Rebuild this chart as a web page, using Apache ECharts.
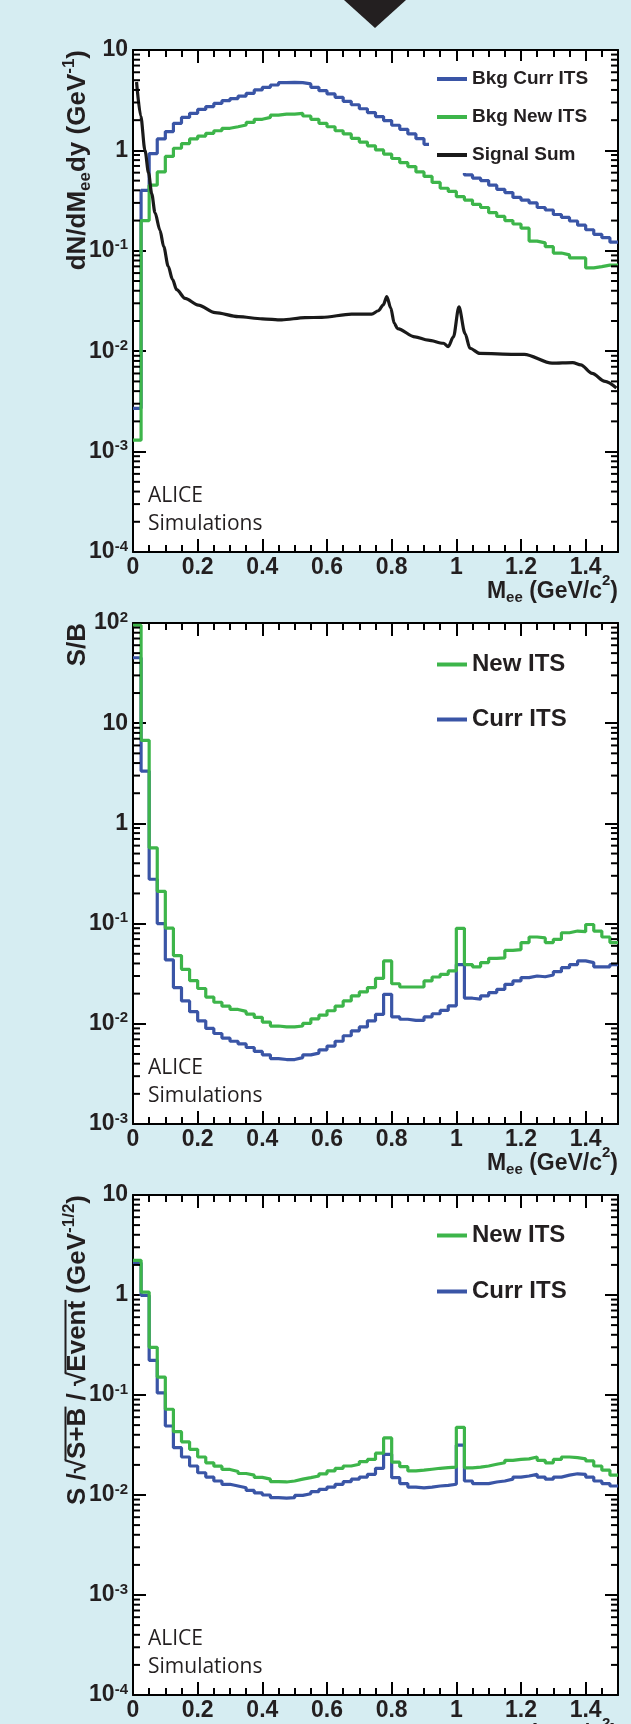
<!DOCTYPE html>
<html>
<head>
<meta charset="utf-8">
<script src="https://cdn.jsdelivr.net/npm/echarts@6/dist/echarts.min.js"></script>
<style>
html,body{margin:0;padding:0;background:#d6edf2;}
#c{width:631px;height:1724px;}
</style>
</head>
<body>
<div id="c"></div>
<script>
// ---------------- data ----------------
const binWidth = 0.025;            // histogram bin width (GeV/c^2), 60 bins from 0 to 1.5
const xTickLabels = ['0', '0.2', '0.4', '0.6', '0.8', '1', '1.2', '1.4'];

// Panel 1: dN/dMee dy
const bkgCurrITS = [0.0027, 0.40, 0.93, 1.30, 1.54, 1.86, 2.13, 2.34, 2.56, 2.73,
  2.94, 3.13, 3.28, 3.48, 3.70, 4.00, 4.25, 4.48, 4.73, 4.76,
  4.73, 4.59, 4.25, 3.93, 3.65, 3.38, 3.08, 2.85, 2.60, 2.38,
  2.17, 1.98, 1.78, 1.62, 1.46, 1.31, 1.15, 0.97, 0.83, 0.74,
  0.64, 0.57, 0.53, 0.50, 0.45, 0.41, 0.38, 0.34, 0.32, 0.30,
  0.27, 0.255, 0.23, 0.215, 0.198, 0.18, 0.162, 0.146, 0.135, 0.122];
const bkgNewITS = [0.0013, 0.20, 0.45, 0.61, 0.87, 1.05, 1.17, 1.30, 1.39, 1.48,
  1.57, 1.66, 1.72, 1.79, 1.90, 2.04, 2.13, 2.25, 2.30, 2.30,
  2.34, 2.20, 2.04, 1.86, 1.72, 1.57, 1.46, 1.32, 1.21, 1.11,
  1.01, 0.92, 0.83, 0.755, 0.69, 0.61, 0.55, 0.48, 0.42, 0.39,
  0.346, 0.32, 0.29, 0.27, 0.24, 0.22, 0.20, 0.185, 0.168, 0.125,
  0.12, 0.11, 0.095, 0.091, 0.085, 0.085, 0.0675, 0.0695, 0.072, 0.072];
const signalSumMass = [0.011, 0.024, 0.037, 0.048, 0.058, 0.068, 0.0835, 0.095, 0.109, 0.122,
  0.135, 0.161, 0.202, 0.254, 0.326, 0.40, 0.46, 0.532, 0.584, 0.676,
  0.738, 0.759, 0.774, 0.785, 0.797, 0.808, 0.818, 0.872, 0.913, 0.96,
  0.975, 0.991, 1.008, 1.027, 1.042, 1.073, 1.18, 1.21, 1.296, 1.36,
  1.385, 1.42, 1.46, 1.495];
const signalSumValue = [4.8, 2.2, 1.0, 0.6, 0.37, 0.24, 0.16, 0.11, 0.07, 0.052,
  0.041, 0.0336, 0.0288, 0.0242, 0.0221, 0.021, 0.0205, 0.0216, 0.0217, 0.0234,
  0.0234, 0.0253, 0.029, 0.035, 0.027, 0.019, 0.0168, 0.0139, 0.0129, 0.012,
  0.0111, 0.0139, 0.0277, 0.015, 0.0107, 0.0095, 0.0093, 0.0093, 0.0076, 0.0077,
  0.0073, 0.006, 0.005, 0.0043];

// Panel 2: S/B
const sbNewITS = [95, 6.75, 0.57, 0.21, 0.09, 0.048, 0.035, 0.027, 0.0225, 0.0185,
  0.0164, 0.015, 0.0139, 0.0133, 0.0125, 0.0116, 0.0104, 0.0095, 0.0093, 0.0093,
  0.0095, 0.0101, 0.0112, 0.0122, 0.0135, 0.015, 0.0169, 0.019, 0.0208, 0.023,
  0.0284, 0.0424, 0.0251, 0.0233, 0.0233, 0.0233, 0.0268, 0.0293, 0.0312, 0.0337,
  0.0897, 0.039, 0.037, 0.0408, 0.045, 0.0455, 0.054, 0.055, 0.0646, 0.0735,
  0.072, 0.0646, 0.0697, 0.081, 0.0843, 0.083, 0.098, 0.0843, 0.0735, 0.0646];
const sbCurrITS = [45, 3.33, 0.277, 0.10, 0.0435, 0.023, 0.0169, 0.0132, 0.0107, 0.009,
  0.008, 0.0072, 0.0067, 0.0063, 0.0058, 0.0053, 0.0049, 0.0045, 0.0044, 0.0044,
  0.0046, 0.0049, 0.0051, 0.0055, 0.006, 0.0067, 0.0076, 0.0085, 0.0093, 0.0107,
  0.0124, 0.0197, 0.0117, 0.0111, 0.0108, 0.0108, 0.0117, 0.0126, 0.0136, 0.0151,
  0.039, 0.018, 0.0176, 0.019, 0.0205, 0.0221, 0.0248, 0.0268, 0.0289, 0.030,
  0.0295, 0.0307, 0.0331, 0.0363, 0.039, 0.0424, 0.0408, 0.037, 0.037, 0.039];

// Panel 3: S/sqrt(S+B)/sqrt(Event)
const signifNewITS = [2.22, 1.07, 0.30, 0.151, 0.072, 0.043, 0.034, 0.0286, 0.024, 0.021,
  0.0194, 0.018, 0.0172, 0.0164, 0.0158, 0.015, 0.0144, 0.0136, 0.0135, 0.0138,
  0.0144, 0.0149, 0.0155, 0.0163, 0.0174, 0.0185, 0.0195, 0.0203, 0.0216, 0.0227,
  0.0262, 0.0372, 0.0213, 0.0192, 0.0174, 0.0177, 0.0181, 0.0185, 0.0188, 0.019,
  0.0475, 0.0187, 0.019, 0.0195, 0.0203, 0.021, 0.0222, 0.0227, 0.023, 0.024,
  0.0222, 0.021, 0.0227, 0.024, 0.0236, 0.023, 0.0219, 0.0195, 0.0177, 0.0158];
const signifCurrITS = [2.1, 0.99, 0.222, 0.105, 0.049, 0.0297, 0.024, 0.0195, 0.0167, 0.0151,
  0.0138, 0.0128, 0.0123, 0.0118, 0.0111, 0.0105, 0.0100, 0.0094, 0.0093, 0.0094,
  0.0099, 0.0103, 0.0108, 0.0114, 0.012, 0.0128, 0.0136, 0.0144, 0.0151, 0.0161,
  0.0185, 0.0255, 0.0149, 0.013, 0.012, 0.0118, 0.012, 0.0123, 0.0125, 0.0128,
  0.0316, 0.0138, 0.013, 0.013, 0.0135, 0.0138, 0.0144, 0.0151, 0.0155, 0.0161,
  0.0151, 0.0144, 0.0151, 0.0158, 0.0163, 0.0161, 0.0151, 0.0138, 0.013, 0.0123];

// y ranges (decade exponents) per panel
const yExpRanges = [[-4, 1], [-3, 2], [-4, 1]];

// ---------------- styling ----------------
const FONT = '"Liberation Sans", Arial, Helvetica, sans-serif';
const TXT = '#231f20';
const BLUE = '#3a55a6';
const GREEN = '#3db54a';
const BG = '#d6edf2';
const grids = [
  { left: 133, top: 50, width: 485, height: 502 },
  { left: 133, top: 623, width: 485, height: 501 },
  { left: 133, top: 1195, width: 485, height: 500 }
];

const mctx = document.createElement('canvas').getContext('2d');
function textW(t, size, weight) {
  mctx.font = (weight || 'bold') + ' ' + size + 'px ' + FONT;
  return mctx.measureText(t).width;
}

// build a composite text (sub/superscripts, overlines) as a group
function compositeText(pieces, opt) {
  let x = 0;
  const items = pieces.map(p => {
    const w = textW(p.t, p.s);
    const it = Object.assign({}, p, { x: x, w: w });
    x += w;
    return it;
  });
  const off = opt.align === 'right' ? -x : 0;
  const children = [];
  items.forEach(it => {
    children.push({
      type: 'text', x: it.x + off, y: it.dy || 0,
      style: {
        text: it.t, font: 'bold ' + it.s + 'px ' + FONT, fill: TXT,
        textAlign: 'left', textVerticalAlign: 'middle', align: 'left', verticalAlign: 'middle'
      }
    });
    if (it.over) {
      children.push({
        type: 'line',
        shape: { x1: it.x + off - 1, y1: it.overY, x2: it.x + off + it.w + 1, y2: it.overY },
        style: { stroke: TXT, lineWidth: 2 }
      });
    }
  });
  return { type: 'group', x: opt.x, y: opt.y, rotation: opt.rotation || 0, silent: true, children: children };
}

function histData(vals) {
  const d = vals.map((v, i) => [i * binWidth, v]);
  d.push([vals.length * binWidth, vals[vals.length - 1]]);
  return d;
}

function minorTickData(lo, hi) {
  const out = [];
  for (let e = lo; e < hi; e++) {
    for (let m = 2; m <= 9; m++) out.push([0, m * Math.pow(10, e)]);
  }
  return out;
}

function xLabel(v) {
  const i = Math.round(v / 0.2);
  if (Math.abs(v - i * 0.2) < 1e-6 && i < xTickLabels.length) return xTickLabels[i];
  return '';
}
function yLabel(v) {
  const e = Math.round(Math.log10(v));
  if (e === 0) return '{b|1}';
  if (e === 1) return '{b|10}';
  return '{b|10}{s|' + e + '}';
}

const axisLineStyle = { color: '#000', width: 2 };
const xAxes = [], yAxes = [];
grids.forEach((g, gi) => {
  ['bottom', 'top'].forEach(pos => {
    xAxes.push({
      type: 'value', gridIndex: gi, position: pos, min: 0, max: 1.5, interval: 0.2,
      axisLine: { show: true, onZero: false, lineStyle: axisLineStyle },
      axisTick: { show: true, inside: true, length: 13, lineStyle: { color: '#000', width: 2 } },
      minorTick: { show: true, splitNumber: 4, length: 7, lineStyle: { color: '#000', width: 2 } },
      axisLabel: {
        show: pos === 'bottom', margin: 4, formatter: xLabel,
        fontSize: 23, fontWeight: 'bold', fontFamily: FONT, color: TXT
      },
      splitLine: { show: false }
    });
  });
  ['left', 'right'].forEach(pos => {
    yAxes.push({
      type: 'log', logBase: 10, gridIndex: gi, position: pos,
      min: Math.pow(10, yExpRanges[gi][0]), max: Math.pow(10, yExpRanges[gi][1]),
      axisLine: { show: true, onZero: false, lineStyle: axisLineStyle },
      axisTick: { show: true, inside: true, length: 13, lineStyle: { color: '#000', width: 2 } },
      minorTick: { show: false },
      axisLabel: {
        show: pos === 'left', margin: 5, formatter: yLabel,
        rich: {
          b: { fontSize: 23, fontWeight: 'bold', fontFamily: FONT, color: TXT, lineHeight: 26 },
          s: { fontSize: 15, fontWeight: 'bold', fontFamily: FONT, color: TXT, lineHeight: 10, verticalAlign: 'top' }
        }
      },
      splitLine: { show: false }
    });
  });
});

function histSeries(name, gi, vals, color) {
  return {
    name: name, type: 'line', xAxisIndex: gi * 2, yAxisIndex: gi * 2,
    data: histData(vals), step: 'end', showSymbol: false, symbol: 'none',
    color: color, itemStyle: { color: color },
    lineStyle: { color: color, width: 3.2 }, clip: true, silent: true, animation: false
  };
}
function tickSeries(gi) {
  return {
    type: 'custom', name: 'ticks' + gi, xAxisIndex: gi * 2, yAxisIndex: gi * 2,
    coordinateSystem: 'cartesian2d', silent: true, z: 6, clip: false,
    encode: { x: 0, y: 1 },
    data: minorTickData(yExpRanges[gi][0], yExpRanges[gi][1]),
    renderItem: function (params, api) {
      const v = api.value(1);
      const pL = api.coord([0, v]);
      const pR = api.coord([1.5, v]);
      return {
        type: 'group', children: [
          { type: 'line', shape: { x1: pL[0], y1: pL[1], x2: pL[0] + 7, y2: pL[1] }, style: { stroke: '#000', lineWidth: 2 } },
          { type: 'line', shape: { x1: pR[0] - 7, y1: pR[1], x2: pR[0], y2: pR[1] }, style: { stroke: '#000', lineWidth: 2 } }
        ]
      };
    }
  };
}

const series = [
  histSeries('Bkg Curr ITS', 0, bkgCurrITS, BLUE),
  histSeries('Bkg New ITS', 0, bkgNewITS, GREEN),
  {
    name: 'Signal Sum', type: 'line', xAxisIndex: 0, yAxisIndex: 0,
    data: signalSumMass.map((m, i) => [m, signalSumValue[i]]),
    smooth: 0.3, smoothMonotone: 'x', showSymbol: false, symbol: 'none',
    color: '#1a1a1a', itemStyle: { color: '#1a1a1a' },
    lineStyle: { color: '#1a1a1a', width: 3.2 }, clip: true, silent: true, animation: false
  },
  histSeries('Curr ITS', 1, sbCurrITS, BLUE),
  histSeries('New ITS', 1, sbNewITS, GREEN),
  histSeries('Curr ITS', 2, signifCurrITS, BLUE),
  histSeries('New ITS', 2, signifNewITS, GREEN),
  tickSeries(0), tickSeries(1), tickSeries(2)
];

function legendCfg(data, top, size, gap) {
  return {
    data: data, orient: 'vertical', left: 429, top: top, selectedMode: false,
    icon: 'rect', itemWidth: 30, itemHeight: 4, itemGap: gap,
    padding: [8, 10, 8, 8], backgroundColor: '#fff',
    textStyle: { fontSize: size, fontWeight: 'bold', fontFamily: FONT, color: TXT, lineHeight: size + 1 }
  };
}

const TS = 26, TSS = 17;   // y-title font sizes
const graphics = [
  { type: 'polygon', shape: { points: [[344, 0], [406, 0], [375, 28]] }, style: { fill: TXT }, silent: true },
  // y-axis titles
  compositeText([
    { t: 'dN/dM', s: TS }, { t: 'ee', s: TSS, dy: 7 }, { t: 'dy (GeV', s: TS },
    { t: '-1', s: TSS, dy: -9 }, { t: ')', s: TS }
  ], { x: 78, y: 50, rotation: Math.PI / 2, align: 'right' }),
  compositeText([{ t: 'S/B', s: TS }], { x: 78, y: 623, rotation: Math.PI / 2, align: 'right' }),
  compositeText([
    { t: 'S /', s: TS }, { t: '\u221A', s: TS }, { t: 'S+B', s: TS, over: true, overY: -12.5 },
    { t: ' / ', s: TS }, { t: '\u221A', s: TS }, { t: 'Event', s: TS, over: true, overY: -12.5 },
    { t: ' (GeV', s: TS }, { t: '-1/2', s: TSS, dy: -9 }, { t: ')', s: TS }
  ], { x: 78, y: 1195, rotation: Math.PI / 2, align: 'right' })
];
// x-axis titles and ALICE labels
grids.forEach(g => {
  const bottom = g.top + g.height;
  graphics.push(compositeText([
    { t: 'M', s: 23 }, { t: 'ee', s: 15, dy: 6 }, { t: ' (GeV/c', s: 23 }, { t: '2', s: 15, dy: -11 }, { t: ')', s: 23 }
  ], { x: 618, y: bottom + 40, align: 'right' }));
  graphics.push({
    type: 'text', x: 148, y: bottom - 56, silent: true,
    style: { text: 'ALICE', font: 'normal 21px "Open Sans", sans-serif', fill: TXT, textVerticalAlign: 'middle', verticalAlign: 'middle' }
  });
  graphics.push({
    type: 'text', x: 148, y: bottom - 28, silent: true,
    style: { text: 'Simulations', font: 'normal 21px "Open Sans", sans-serif', fill: TXT, textVerticalAlign: 'middle', verticalAlign: 'middle' }
  });
});

const chart = echarts.init(document.getElementById('c'), null, { renderer: 'canvas', width: 631, height: 1724, devicePixelRatio: 1 });
chart.setOption({
  animation: false,
  backgroundColor: BG,
  grid: grids.map(g => Object.assign({ show: true, backgroundColor: '#fff', borderWidth: 0, containLabel: false }, g)),
  xAxis: xAxes,
  yAxis: yAxes,
  legend: [
    legendCfg(['Bkg Curr ITS', 'Bkg New ITS', 'Signal Sum'], 61, 19, 18),
    legendCfg(['New ITS', 'Curr ITS'], 644, 24, 30),
    legendCfg(['New ITS', 'Curr ITS'], 1215, 24, 31)
  ],
  tooltip: { show: false },
  series: series,
  graphic: { elements: graphics }
});
</script>
</body>
</html>
